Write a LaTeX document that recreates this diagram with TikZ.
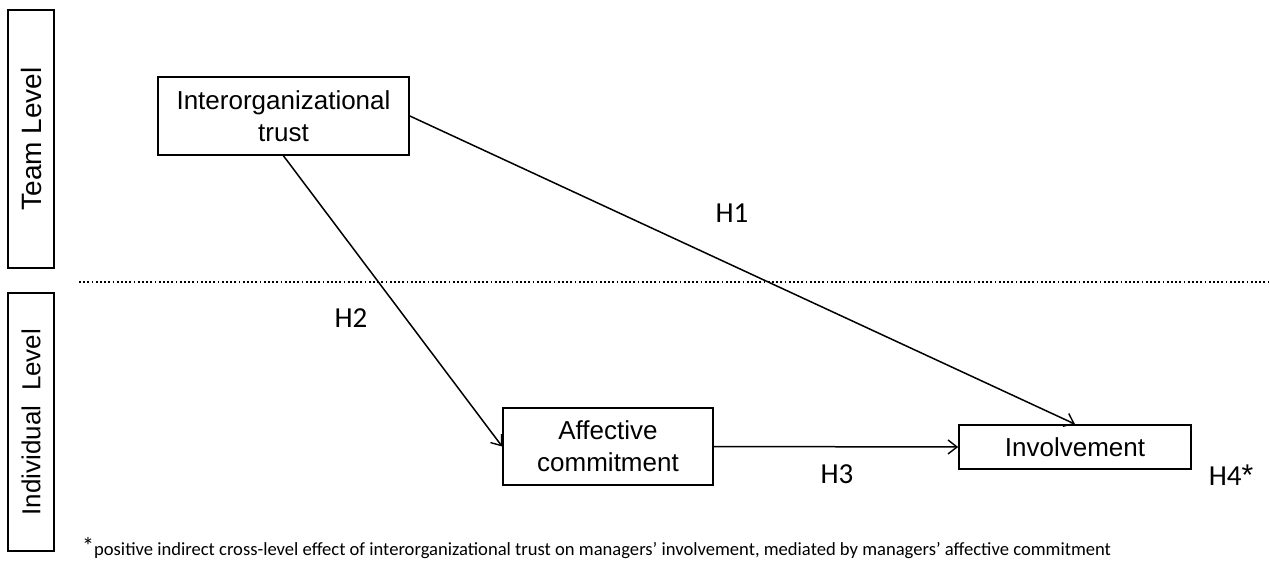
\documentclass[tikz,border=0pt]{standalone}
\usepackage{fontspec}
\setmainfont{Liberation Sans}
\newfontfamily\calfont{Carlito}
\usetikzlibrary{arrows.meta}
\begin{document}
\begin{tikzpicture}[x=1pt,y=-1pt,
  box/.style={draw,line width=1.7pt,inner sep=0pt,align=center,
    font=\fontsize{26}{32}\selectfont},
  lvl/.style={draw,line width=1.7pt,inner sep=0pt,minimum width=46pt,minimum height=258pt},
  lvltext/.style={rotate=90,font=\fontsize{26}{30}\selectfont},
  hlab/.style={font=\calfont\fontsize{29}{32}\selectfont,inner sep=0pt},
  arr/.style={line width=1.5pt,-{Straight Barb[length=9pt,width=14pt,line width=1.4pt]}}
]
\useasboundingbox (0,0) rectangle (1270,564);
\fill[white] (0,0) rectangle (1270,564);

\node[lvl] (team) at (31,139) {};
\node[lvltext,font=\fontsize{28}{30}\selectfont] (teamt) at (team.center) {Team Level};
\node[lvl] (indiv) at (31,422) {};
\node[lvltext] (indivt) at (indiv.center) {Individual\ \ Level};

\coordinate (dl) at (79,282);
\coordinate (dr) at (1270,282);
\draw[line width=1.8pt,dash pattern=on 1.8pt off 2.4pt] (dl) -- (dr);

\node[box,minimum width=251pt,minimum height=78pt] (trust) at (283.5,116) {Interorganizational\\trust};
\node[box,minimum width=210pt,minimum height=77pt] (aff) at (608,446.5) {Affective\\commitment};
\node[box,minimum width=232pt,minimum height=44pt] (inv) at (1075,447) {Involvement};

\draw[arr] (trust.east) -- (inv.north);
\draw[arr] (trust.south) -- (aff.west);
\draw[arr] (aff.east) -- (inv.west);

\node[hlab] (h1) at (732,213.5) {H1};
\node[hlab] (h2) at (351,318.5) {H2};
\node[hlab] (h3) at (837,474.5) {H3};
\node[hlab] (h4) at (1231,475) {H4{\rmfamily\fontsize{30}{30}\selectfont *}};

\node[anchor=base west,inner sep=0pt,font=\calfont\fontsize{18.6}{20}\selectfont] (fn) at (82,555)
  {\raisebox{1pt}{\fontsize{24}{24}\selectfont *}positive indirect cross-level effect of interorganizational trust on managers’ involvement, mediated by managers’ affective commitment};
\end{tikzpicture}
\end{document}
